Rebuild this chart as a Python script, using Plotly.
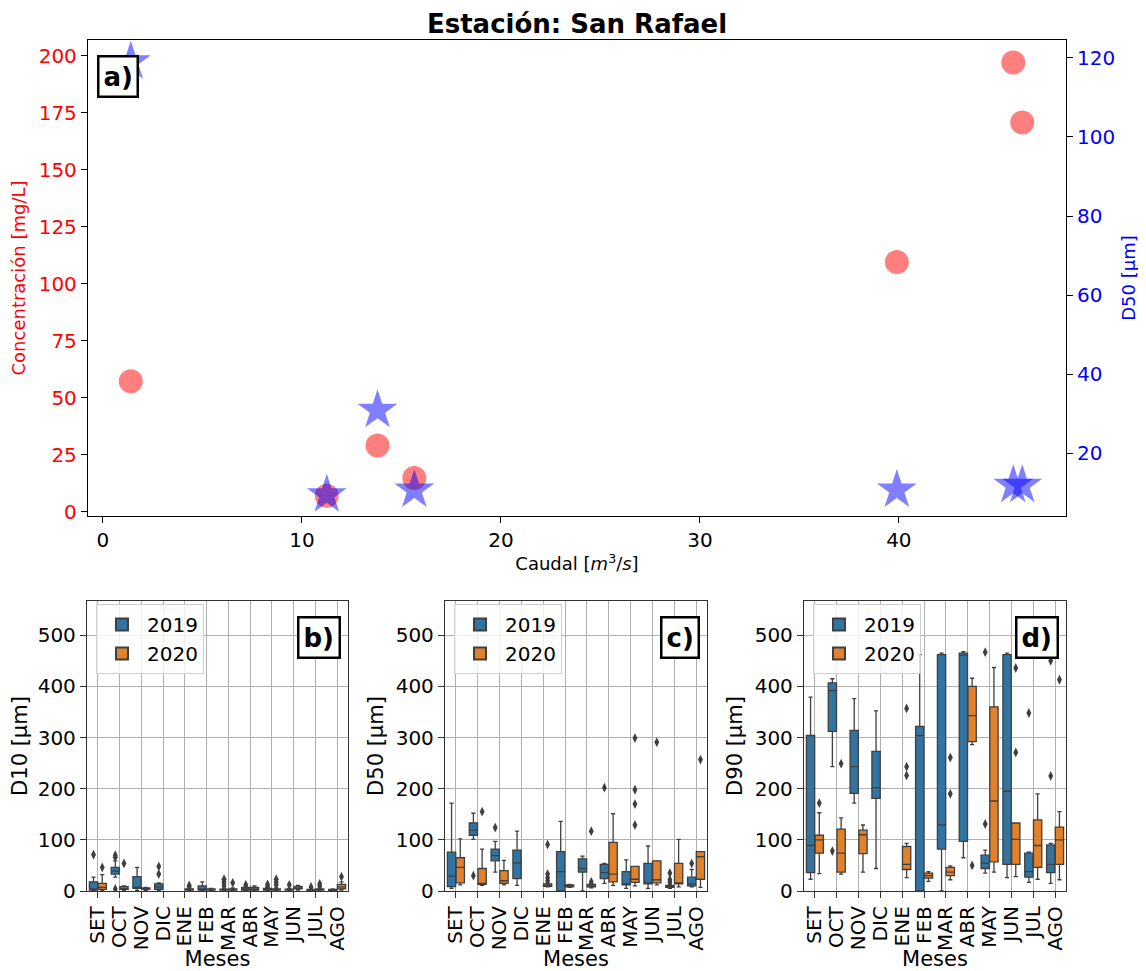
import plotly.graph_objects as go

# --- panel a) ---
caudal = [1.4, 11.25, 13.8, 15.65, 39.9, 45.75, 46.2]
concentracion = [57.2, 7.0, 29.0, 14.8, 109.5, 197.0, 170.7]
d50_campo = [119.0, 9.5, 30.9, 10.7, 10.7, 11.9, 11.9]

# --- panels b), c), d): box stats per month [low whisker, q1, median, q3, high whisker]
meses = ["SET", "OCT", "NOV", "DIC", "ENE", "FEB", "MAR", "ABR", "MAY", "JUN", "JUL", "AGO"]

d10_2019 = [[0, 2, 4, 18, 27], [27, 33, 39, 46, 59], [1, 5, 6, 28, 46], [1, 3, 8, 14, 16], None,
            [0, 2, 4, 10, 18], [1, 2, 2.5, 3.5, 5], [1, 2, 4, 7, 9], [1, 2, 3, 5, 7],
            [1, 2, 2.5, 3.5, 5], [1, 1.5, 2, 3, 4], [1, 1.5, 2, 3, 4]]
d10_2020 = [[1, 3, 7, 15, 32], [1, 3, 5, 8.5, 10], [1, 3, 4, 6, 7], None, [1, 2, 3, 4, 5],
            [1, 2, 3, 4, 5], [1, 2, 3, 4, 6], [1, 2, 4, 7, 10], [1, 2, 3, 4, 6],
            [2, 4, 6, 9, 11], [1, 2, 3, 4, 6], [2, 4, 8, 13, 18]]
d10_2019_out = [("SET", 71), ("OCT", 70), ("OCT", 66), ("OCT", 4), ("DIC", 48), ("DIC", 33),
                ("MAR", 23), ("MAR", 19), ("MAR", 15), ("MAR", 10), ("ABR", 12), ("MAY", 13),
                ("MAY", 9), ("JUN", 12), ("JUL", 8)]
d10_2020_out = [("SET", 46), ("OCT", 54), ("ENE", 8), ("ENE", 11), ("MAR", 16), ("MAY", 23),
                ("MAY", 17), ("MAY", 12), ("JUL", 14), ("JUL", 10), ("AGO", 28)]

d50_2019 = [[5, 8.5, 29, 76, 172], [101, 109, 119, 133, 152], [37, 59, 69, 82, 97], [11, 24, 55, 80, 117],
            None, [0, 0, 38, 77, 136], [0, 37, 44, 63, 68], [15, 24, 36, 52, 54], [5, 12, 14, 38, 61],
            [5, 14, 16, 54, 88], [5, 7, 8, 11, 13], [8, 10, 14, 27, 42]]
d50_2020 = [[12, 16, 46, 65, 102], [11, 13, 15, 44, 82], [12, 15, 20, 40, 60], None, [8, 9, 11, 14, 16],
            [7, 8, 10, 12, 13], [6, 8, 10, 13, 15], [11, 18, 33, 95, 151], [10, 17, 23, 48, 48],
            [12, 16, 22, 59, 59], [8, 14, 16, 54, 101], [7, 23, 67, 77, 77]]
d50_2019_out = [("OCT", 30), ("NOV", 124), ("ABR", 202), ("JUL", 35), ("JUL", 22), ("JUL", 17), ("AGO", 54)]
d50_2020_out = [("OCT", 155), ("ENE", 91), ("ENE", 33), ("ENE", 26), ("ENE", 20), ("MAR", 117), ("MAR", 18),
                ("MAY", 299), ("MAY", 198), ("MAY", 170), ("MAY", 129), ("JUN", 291), ("AGO", 257)]

d90_2019 = [[23, 36, 89, 304, 379], [243, 312, 392, 407, 415], [172, 191, 243, 314, 376],
            [44, 181, 202, 273, 352], None, [0, 0, 304, 322, 462], [0, 82, 129, 462, 465],
            [65, 97, 461, 465, 468], [35, 44, 54, 70, 80], [26, 52, 195, 462, 465],
            [17, 27, 38, 74, 76], [15, 36, 52, 90, 93]]
d90_2020 = [[34, 74, 100, 109, 153], [33, 37, 74, 121, 143], [37, 73, 110, 119, 129], None,
            [26, 42, 52, 87, 93], [19, 25, 30, 35, 38], [22, 30, 37, 46, 49], [286, 292, 343, 400, 416],
            [37, 57, 176, 360, 437], [28, 52, 101, 133, 133], [23, 46, 89, 139, 190], [22, 52, 100, 125, 155]]
d90_2019_out = [("OCT", 78), ("MAY", 467), ("MAY", 131), ("JUL", 462), ("JUL", 348), ("AGO", 450), ("AGO", 225)]
d90_2020_out = [("SET", 172), ("OCT", 249), ("ENE", 357), ("ENE", 243), ("ENE", 226), ("MAR", 261),
                ("MAR", 190), ("ABR", 50), ("JUN", 436), ("JUN", 271), ("AGO", 413)]

# the page body has an 8px margin, so the figure starts at (8, 8): shift all positions
OFF = 8
W, H = 1146 - OFF, 971 - OFF


def px(x):
    return (x - OFF) / W


def py(y):
    return 1 - (y - OFF) / H


FONT = "DejaVu Sans"
C2019 = "#3274a1"
C2020 = "#e1812c"
EDGE = "#3f3f3f"

fig = go.Figure()

# panel a)
fig.add_trace(go.Scatter(x=caudal, y=concentracion, mode="markers", showlegend=False,
                         marker=dict(color="red", opacity=0.5, size=24, symbol="circle"),
                         xaxis="x", yaxis="y"))
fig.add_trace(go.Scatter(x=caudal, y=d50_campo, mode="markers", showlegend=False,
                         marker=dict(color="blue", opacity=0.5, size=30, symbol="star"),
                         xaxis="x", yaxis="y2"))


def add_boxes(stats, outs, year, color, offset, xa, ya, leg):
    pos, lo, q1, med, q3, hi = [], [], [], [], [], []
    for i, s in enumerate(stats):
        if s is None:
            continue
        pos.append(i + offset)
        lo.append(s[0]); q1.append(s[1]); med.append(s[2]); q3.append(s[3]); hi.append(s[4])
    fig.add_trace(go.Box(x=pos, lowerfence=lo, q1=q1, median=med, q3=q3, upperfence=hi,
                         name=year, fillcolor=color, line=dict(color=EDGE, width=1.3),
                         width=0.38, whiskerwidth=0.5, boxpoints=False,
                         xaxis=xa, yaxis=ya, legend=leg, showlegend=True))
    fig.add_trace(go.Scatter(x=[meses.index(m) + offset for m, v in outs], y=[v for m, v in outs],
                             mode="markers", showlegend=False, xaxis=xa, yaxis=ya,
                             marker=dict(symbol="diamond-tall", size=7, color=EDGE)))


panels = [("x2", "y3", "legend", d10_2019, d10_2020, d10_2019_out, d10_2020_out),
          ("x3", "y4", "legend2", d50_2019, d50_2020, d50_2019_out, d50_2020_out),
          ("x4", "y5", "legend3", d90_2019, d90_2020, d90_2019_out, d90_2020_out)]
for xa, ya, leg, s19, s20, o19, o20 in panels:
    add_boxes(s19, o19, "2019", C2019, -0.2, xa, ya, leg)
    add_boxes(s20, o20, "2020", C2020, 0.2, xa, ya, leg)

TICK = 20
TITLE = 18
BTITLE = 21
tick = dict(ticks="outside", ticklen=6, tickwidth=1.2, tickcolor="black", automargin=False,
            showline=True, linecolor="black", linewidth=1.3, mirror=True, zeroline=False)

top_dom = [py(516), py(40)]
bot_dom = [py(891), py(601)]
xdoms = [[px(87), px(348)], [px(445), px(707)], [px(804), px(1066)]]

layout = dict(
    width=W, height=H, margin=dict(l=0, r=0, t=0, b=0, autoexpand=False),
    paper_bgcolor="white", plot_bgcolor="white",
    font=dict(family=FONT, size=TITLE, color="black"),
    title=dict(text="<b>Estación: San Rafael</b>", x=px(577), xanchor="center",
               y=py(24), yanchor="middle", font=dict(size=26), automargin=False),
    xaxis=dict(domain=[px(88), px(1066)], anchor="y", range=[-0.75, 48.4], dtick=10,
               showgrid=False, tickfont=dict(size=TICK),
               title=dict(text="Caudal [<i>m</i><sup>3</sup>/<i>s</i>]", standoff=6, font=dict(size=TITLE)),
               **tick),
    yaxis=dict(domain=top_dom, anchor="x", range=[-1.9, 206.9], dtick=25, showgrid=False,
               tickfont=dict(color="red", size=TICK),
               title=dict(text="Concentración [mg/L]", font=dict(color="red", size=TITLE), standoff=8),
               **tick),
    yaxis2=dict(overlaying="y", side="right", anchor="x", range=[4.15, 124.5], dtick=20,
                showgrid=False, tickfont=dict(color="blue", size=TICK), automargin=False,
                title=dict(text="D50 [μm]", font=dict(color="blue", size=TITLE), standoff=8),
                ticks="outside", ticklen=6, tickcolor="black", zeroline=False),
)

ylabels = ["D10 [μm]", "D50 [μm]", "D90 [μm]"]
letters = ["b)", "c)", "d)"]
legnames = ["legend", "legend2", "legend3"]
for k in range(3):
    xa = "xaxis%d" % (k + 2)
    ya = "yaxis%d" % (k + 3)
    layout[xa] = dict(domain=xdoms[k], anchor="y%d" % (k + 3), range=[-0.5, 11.5],
                      tickvals=list(range(12)), ticktext=meses, tickangle=-90,
                      tickfont=dict(size=TICK), automargin=False,
                      showgrid=True, gridcolor="#b0b0b0", gridwidth=1,
                      title=dict(text="Meses", standoff=2, font=dict(size=BTITLE)),
                      ticks="outside", ticklen=6, tickcolor="#333", showline=True,
                      linecolor="#333", linewidth=1.3, mirror=True, zeroline=False)
    layout[ya] = dict(domain=bot_dom, anchor="x%d" % (k + 2), range=[0, 567], dtick=100,
                      tickfont=dict(size=TICK), automargin=False,
                      showgrid=True, gridcolor="#b0b0b0", gridwidth=1,
                      title=dict(text=ylabels[k], standoff=6, font=dict(size=BTITLE)),
                      ticks="outside", ticklen=6, tickcolor="#333", showline=True,
                      linecolor="#333", linewidth=1.3, mirror=True, zeroline=False)
    layout[legnames[k]] = dict(x=xdoms[k][0] + 9 / W, y=py(604), xanchor="left", yanchor="top",
                               bgcolor="rgba(255,255,255,0.8)", bordercolor="#d0d0d0", borderwidth=1,
                               font=dict(size=20), itemsizing="constant", itemwidth=40,
                               tracegroupgap=6)

fig.update_layout(**layout)

# panel letters
fig.add_annotation(text="<b>a)</b>", xref="x domain", yref="y domain", x=0.009, y=0.968,
                   xanchor="left", yanchor="top", showarrow=False, font=dict(size=26),
                   bordercolor="black", borderwidth=2.5, borderpad=4, bgcolor="white")
for k in range(3):
    fig.add_annotation(text="<b>%s</b>" % letters[k], xref="x%d domain" % (k + 2), yref="y%d domain" % (k + 3),
                       x=0.975, y=0.95, xanchor="right", yanchor="top", showarrow=False,
                       font=dict(size=26), bordercolor="black", borderwidth=2.5, borderpad=4,
                       bgcolor="white")

fig.write_html("out.html")
